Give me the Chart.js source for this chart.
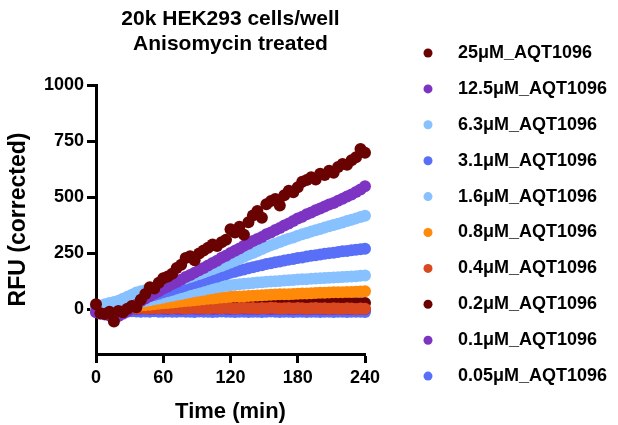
<!DOCTYPE html>
<html>
<head>
<meta charset="utf-8">
<script src="https://cdn.jsdelivr.net/npm/chart.js@4"></script>
<style>
  html, body { margin: 0; padding: 0; background: #fff; }
  canvas { display: block; }
</style>
</head>
<body>
<canvas id="grafico" width="618" height="425"></canvas>
<script>
// tempos de leitura (min)
const tempos = [0, 4, 8, 12, 16, 20, 24, 28, 32, 36, 40, 44, 48, 52, 56, 60, 64, 68, 72, 76, 80,
  84, 88, 92, 96, 100, 104, 108, 112, 116, 120, 124, 128, 132, 136, 140, 144, 148, 152, 156, 160,
  164, 168, 172, 176, 180, 184, 188, 192, 196, 200, 204, 208, 212, 216, 220, 224, 228, 232, 236, 240];

const yTicks = [0, 250, 500, 750, 1000];
const xTicks = [0, 60, 120, 180, 240];

const rotulos = ['25μM_AQT1096', '12.5μM_AQT1096', '6.3μM_AQT1096', '3.1μM_AQT1096', '1.6μM_AQT1096',
  '0.8μM_AQT1096', '0.4μM_AQT1096', '0.2μM_AQT1096', '0.1μM_AQT1096', '0.05μM_AQT1096'];

const cores = ['#6b0202', '#7e34c3', '#88c1ff', '#5a6ff7', '#88c1ff',
  '#ff8a0a', '#d9481f', '#6b0202', '#7e34c3', '#5a6ff7'];

// RFU corrigido de cada concentração
const c25 = [22, -18, -22, -12, -55, -8, -14, 2, 14, 8, 42, 68, 98, 92, 118, 138, 146, 158, 184, 198, 228,
  236, 218, 248, 262, 274, 288, 282, 298, 310, 356, 342, 368, 332, 388, 418, 438, 408, 468, 482, 492,
  462, 508, 528, 522, 544, 568, 576, 588, 578, 604, 598, 618, 608, 634, 648, 644, 664, 678, 714, 698];
const c12_5 = [-14, -20, -24, -28, -33, -30, -21, -8, 6, 20, 36, 47, 59, 70, 80, 92, 101, 112, 121, 131, 143,
  152, 163, 174, 184, 195, 206, 216, 229, 238, 251, 261, 271, 283, 292, 304, 313, 322, 334, 342, 353,
  362, 373, 382, 393, 404, 412, 423, 431, 441, 449, 458, 467, 474, 484, 493, 503, 511, 523, 534, 548];
const c6_3 = [12, 16, 22, 27, 32, 38, 46, 55, 64, 74, 80, 84, 88, 94, 100, 106, 112, 118, 124, 131, 137,
  143, 150, 157, 164, 171, 178, 186, 193, 200, 208, 216, 225, 234, 243, 251, 260, 268, 277, 285, 292,
  300, 307, 314, 320, 327, 334, 340, 346, 352, 358, 364, 370, 375, 381, 387, 393, 399, 405, 411, 417];
const c3_1 = [2, 4, 6, 9, 12, 16, 21, 27, 33, 40, 46, 52, 58, 63, 69, 75, 81, 87, 93, 99, 105,
  111, 117, 122, 128, 134, 140, 145, 151, 156, 162, 167, 172, 177, 182, 187, 192, 196, 201, 205, 209,
  213, 217, 221, 224, 228, 231, 235, 238, 241, 244, 247, 250, 252, 255, 258, 260, 263, 265, 267, 270];
const c1_6 = [6, 7, 9, 11, 13, 15, 18, 21, 24, 28, 32, 36, 40, 44, 48, 52, 56, 60, 64, 68, 72,
  76, 80, 83, 87, 91, 94, 98, 101, 104, 107, 109, 111, 113, 115, 117, 119, 120, 122, 123, 125,
  126, 128, 129, 130, 132, 133, 134, 136, 137, 138, 139, 140, 141, 142, 144, 145, 146, 147, 149, 150];
const c0_8 = [0, 1, 2, 3, 5, 6, 8, 10, 12, 14, 16, 18, 20, 22, 24, 26, 28, 30, 32, 34, 36,
  38, 40, 42, 44, 46, 48, 50, 52, 53, 55, 56, 57, 58, 59, 60, 61, 62, 63, 64, 65,
  66, 66, 67, 68, 69, 70, 70, 71, 72, 73, 73, 74, 75, 75, 76, 77, 77, 78, 79, 80];
const c0_4 = [-2, 0, 1, -1, 2, 1, 3, 2, 4, 3, 5, 4, 3, 5, 4, 6, 5, 4, 6, 5, 3,
  5, 6, 4, 5, 3, 6, 5, 4, 6, 5, 3, 5, 6, 4, 5, 3, 5, 4, 6, 5,
  3, 4, 5, 3, 5, 4, 2, 4, 5, 3, 4, 2, 4, 3, 2, 4, 3, 1, 3, 2];
const c0_2 = [0, -2, 1, 3, 2, 5, 6, 7, 9, 10, 12, 13, 14, 16, 17, 18, 19, 20, 21, 22, 23,
  23, 24, 25, 26, 26, 27, 27, 28, 29, 29, 30, 29, 30, 31, 30, 31, 32, 31, 32, 33,
  32, 33, 32, 33, 32, 33, 31, 32, 30, 31, 30, 29, 30, 29, 28, 29, 27, 28, 26, 27];
const c0_1 = [-3, -4, -2, -3, -1, 0, 1, 0, 2, 1, 2, 3, 1, 2, 3, 2, 1, 3, 2, 1, 2,
  3, 2, 1, 2, 3, 1, 2, 3, 2, 1, 2, 3, 2, 1, 2, 1, 3, 2, 1, 2,
  1, 2, 1, 0, 2, 1, 0, 1, 2, 0, 1, 0, 1, 2, 0, 1, 0, -1, 1, 0];
const c0_05 = [-8, -10, -9, -11, -10, -9, -10, -11, -9, -10, -12, -10, -11, -9, -12, -11, -10, -12, -11, -10, -12,
  -11, -13, -10, -12, -11, -13, -12, -10, -12, -11, -13, -12, -11, -13, -12, -11, -13, -12, -10, -12,
  -13, -11, -12, -13, -11, -12, -13, -12, -11, -13, -12, -11, -13, -12, -11, -13, -12, -11, -12, -13];

const series = [c25, c12_5, c6_3, c3_1, c1_6, c0_8, c0_4, c0_2, c0_1, c0_05];

const fonte = 'Liberation Sans, Arial, Helvetica, sans-serif';

// o Chart.js desenha o dataset 0 por cima, igual à ordem da legenda
const datasets = series.map((valores, i) => ({
  label: rotulos[i],
  data: valores.map((v, k) => ({ x: tempos[k], y: v })),
  backgroundColor: cores[i],
  borderWidth: 0,
  pointRadius: 6,
  pointHoverRadius: 6,
  showLine: false,
  clip: false
}));

// legenda desenhada à mão na lateral direita
const legendaLateral = {
  id: 'legendaLateral',
  afterDraw(chart) {
    const ctx = chart.ctx;
    ctx.save();
    ctx.font = 'bold 18px ' + fonte;
    ctx.textBaseline = 'middle';
    ctx.textAlign = 'left';
    chart.data.datasets.forEach((ds, i) => {
      const y = 53 + i * 35.9;
      ctx.fillStyle = ds.backgroundColor;
      ctx.beginPath();
      ctx.arc(428, y, 4.5, 0, Math.PI * 2);
      ctx.fill();
      ctx.fillStyle = '#000';
      ctx.fillText(ds.label, 458, y);
    });
    ctx.restore();
  }
};

const eixo = {
  grid: { drawOnChartArea: false, drawTicks: true, tickLength: 9, tickWidth: 3, tickColor: '#000' },
  border: { display: true, color: '#000', width: 3 },
  ticks: { color: '#000', font: { family: fonte, size: 18, weight: 'bold' }, callback: (v) => String(v) }
};

new Chart(document.getElementById('grafico'), {
  type: 'scatter',
  data: { datasets: datasets },
  options: {
    responsive: false,
    animation: false,
    layout: { padding: { left: 0, right: 253, top: 0, bottom: 0 } },
    plugins: {
      legend: { display: false },
      tooltip: { enabled: false },
      title: {
        display: true,
        fullSize: false,
        text: ['20k HEK293 cells/well', 'Anisomycin treated'],
        color: '#000',
        font: { family: fonte, size: 21, weight: 'bold', lineHeight: 1.2 },
        padding: { top: 6.4, bottom: 28.2 }
      }
    },
    scales: {
      x: {
        type: 'linear',
        min: 0,
        max: 240,
        grid: eixo.grid,
        border: eixo.border,
        ticks: { ...eixo.ticks, padding: 4 },
        afterBuildTicks: (axis) => { axis.ticks = xTicks.map(v => ({ value: v })); },
        afterFit: (axis) => { axis.height = 71; },
        title: {
          display: true,
          text: 'Time (min)',
          color: '#000',
          font: { family: fonte, size: 22, weight: 'bold', lineHeight: 1.2 },
          padding: { top: 0, bottom: 0 }
        }
      },
      y: {
        min: -200,
        max: 1000,
        grid: eixo.grid,
        border: eixo.border,
        ticks: { ...eixo.ticks, padding: 3 },
        afterBuildTicks: (axis) => { axis.ticks = yTicks.map(v => ({ value: v })); },
        afterFit: (axis) => { axis.width = 96; },
        title: {
          display: true,
          text: 'RFU (corrected)',
          color: '#000',
          font: { family: fonte, size: 23, weight: 'bold', lineHeight: 1.2 },
          padding: { top: 5, bottom: 0 }
        }
      }
    }
  },
  plugins: [legendaLateral]
});
</script>
</body>
</html>
